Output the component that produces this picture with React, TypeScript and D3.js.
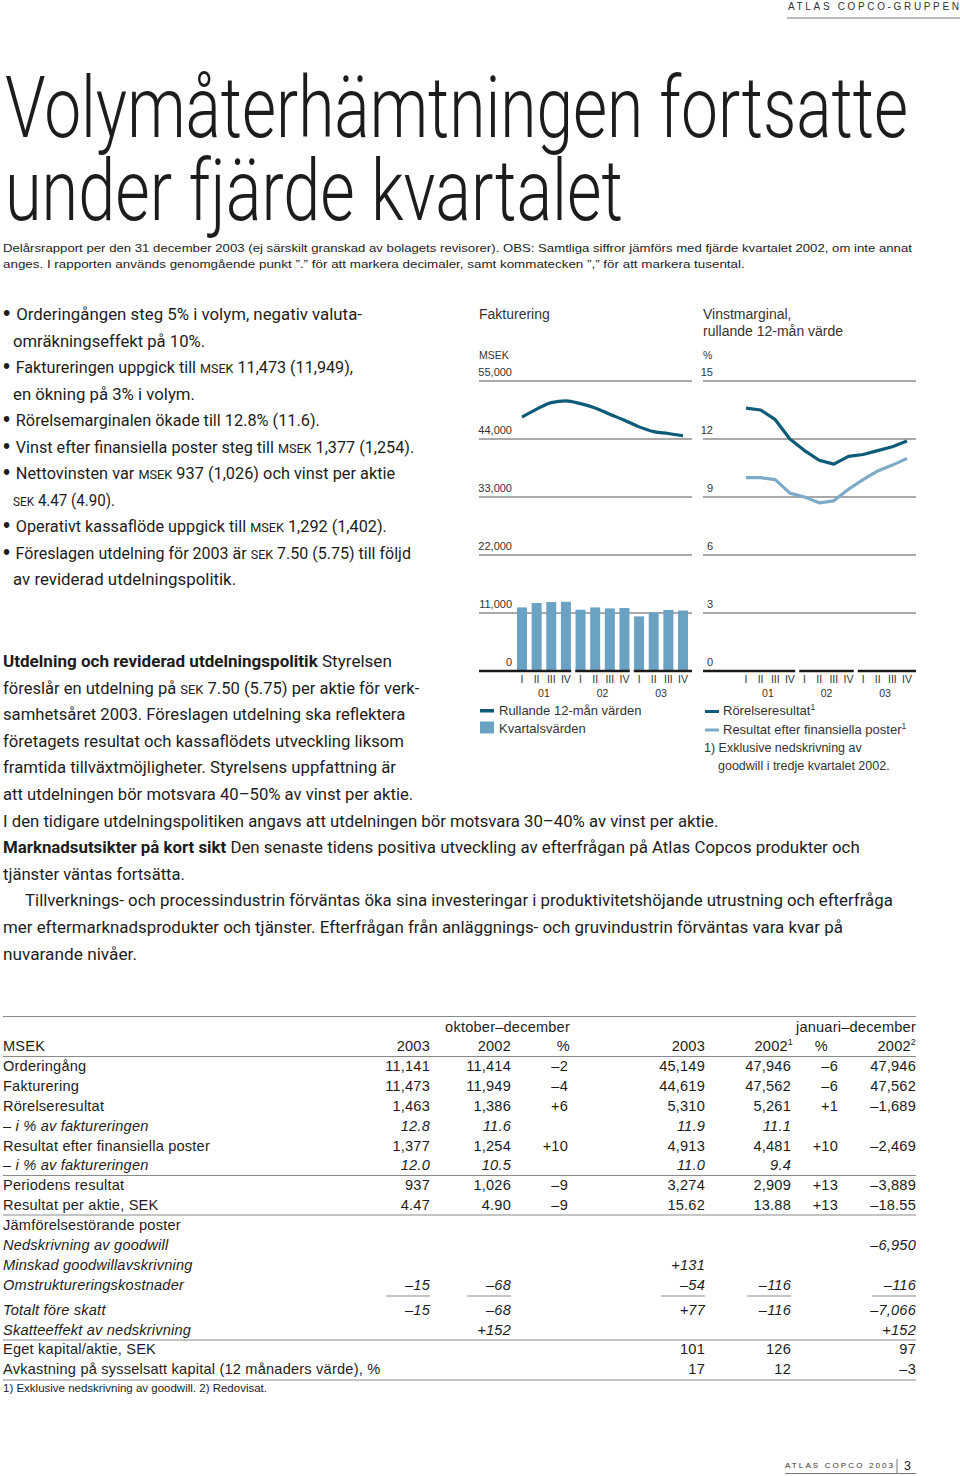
import React, { useLayoutEffect, useRef } from 'react';
import * as d3 from 'd3';

// ---------- chart data ----------
const quarters = ['01-I', '01-II', '01-III', '01-IV', '02-I', '02-II', '02-III', '02-IV', '03-I', '03-II', '03-III', '03-IV'];
const quarterLabels = ['I', 'II', 'III', 'IV', 'I', 'II', 'III', 'IV', 'I', 'II', 'III', 'IV'];
const years = ['01', '02', '03'];
const quarterlyInvoicing = [12060, 12890, 13080, 13130, 11620, 12060, 11870, 11950, 10360, 11110, 11570, 11470];
const rollingInvoicing = [48150, 49660, 50900, 51230, 50700, 49900, 48700, 47560, 46300, 45400, 45050, 44620];
const operatingMargin = [13.6, 13.5, 13.0, 12.0, 11.4, 10.9, 10.7, 11.1, 11.2, 11.4, 11.6, 11.9];
const profitMargin = [10.0, 10.0, 9.9, 9.2, 9.0, 8.7, 8.8, 9.4, 9.9, 10.35, 10.65, 11.0];
const invoicingTicks = [0, 11000, 22000, 33000, 44000, 55000];
const marginTicks = [0, 3, 6, 9, 12, 15];

// ---------- table data ----------
const tableLabels = ['Orderingång', 'Fakturering', 'Rörelseresultat', '– i % av faktureringen', 'Resultat efter finansiella poster', '– i % av faktureringen', 'Periodens resultat', 'Resultat per aktie, SEK', 'Jämförelsestörande poster', 'Nedskrivning av goodwill', 'Minskad goodwillavskrivning', 'Omstruktureringskostnader', 'Totalt före skatt', 'Skatteeffekt av nedskrivning', 'Eget kapital/aktie, SEK', 'Avkastning på sysselsatt kapital (12 månaders värde), %'];
const tableItalic = [false, false, false, true, false, true, false, false, false, true, true, true, true, true, false, false];
const q4y2003 = ['11,141', '11,473', '1,463', '12.8', '1,377', '12.0', '937', '4.47', '', '', '', '–15', '–15', '', '', ''];
const q4y2002 = ['11,414', '11,949', '1,386', '11.6', '1,254', '10.5', '1,026', '4.90', '', '', '', '–68', '–68', '+152', '', ''];
const q4pct = ['–2', '–4', '+6', '', '+10', '', '–9', '–9', '', '', '', '', '', '', '', ''];
const fyy2003 = ['45,149', '44,619', '5,310', '11.9', '4,913', '11.0', '3,274', '15.62', '', '', '+131', '–54', '+77', '', '101', '17'];
const fyy2002 = ['47,946', '47,562', '5,261', '11.1', '4,481', '9.4', '2,909', '13.88', '', '', '', '–116', '–116', '', '126', '12'];
const fypct = ['–6', '–6', '+1', '', '+10', '', '+13', '+13', '', '', '', '', '', '', '', ''];
const fyy2002rep = ['47,946', '47,562', '–1,689', '', '–2,469', '', '–3,889', '–18.55', '', '–6,950', '', '–116', '–7,066', '+152', '97', '–3'];
const headerYears = ['2003', '2002', '%', '2003', '2002', '%', '2002'];
const headerSups = ['', '', '', '', '1', '', '2'];

// ---------- text ----------
const bulletLines = [
  '#• #Orderingången steg 5% i volym, negativ valuta-',
  'omräkningseffekt på 10%.',
  '#• #Faktureringen uppgick till {MSEK} 11,473 (11,949),',
  'en ökning på 3% i volym.',
  '#• #Rörelsemarginalen ökade till 12.8% (11.6).',
  '#• #Vinst efter finansiella poster steg till {MSEK} 1,377 (1,254).',
  '#• #Nettovinsten var {MSEK} 937 (1,026) och vinst per aktie',
  '{SEK} 4.47 (4.90).',
  '#• #Operativt kassaflöde uppgick till {MSEK} 1,292 (1,402).',
  '#• #Föreslagen utdelning för 2003 är {SEK} 7.50 (5.75) till följd',
  'av reviderad utdelningspolitik.',
];
const paraLines = [
  '*Utdelning och reviderad utdelningspolitik* Styrelsen',
  'föreslår en utdelning på {SEK} 7.50 (5.75) per aktie för verk-',
  'samhetsåret 2003. Föreslagen utdelning ska reflektera',
  'företagets resultat och kassaflödets utveckling liksom',
  'framtida tillväxtmöjligheter. Styrelsens uppfattning är',
  'att utdelningen bör motsvara 40–50% av vinst per aktie.',
  'I den tidigare utdelningspolitiken angavs att utdelningen bör motsvara 30–40% av vinst per aktie.',
  '*Marknadsutsikter på kort sikt* Den senaste tidens positiva utveckling av efterfrågan på Atlas Copcos produkter och',
  'tjänster väntas fortsätta.',
  'Tillverknings- och processindustrin förväntas öka sina investeringar i produktivitetshöjande utrustning och efterfråga',
  'mer eftermarknadsprodukter och tjänster. Efterfrågan från anläggnings- och gruvindustrin förväntas vara kvar på',
  'nuvarande nivåer.',
];

// layout of text lines: [startX, endX]
const bulletLayout = [[3, 362], [13, 205], [3, 353], [13, 195], [3, 320], [3, 414], [3, 395], [13, 115], [3, 387], [3, 411], [13, 236]];
const paraLayout = [[3, 392], [3, 419], [3, 405], [3, 404], [3, 396], [3, 413], [3, 718], [3, 860], [3, 185], [25, 893], [3, 843], [3, 137]];

const DARK = '#0d5b78';
const BAR = '#6aa2c4';
const LIGHT = '#7eaac8';
const GRID = '#8c8c8c';
const TXT = '#1c1c1c';
const SANS = "'Liberation Sans', Arial, Helvetica, sans-serif";
const NARROW = "'Liberation Sans Narrow', 'Roboto', sans-serif";

// Text scaled horizontally (via transform) so that it spans exactly width w
function FitText({ x, y, w, children, ...rest }: any) {
  const ref = useRef<SVGTextElement>(null);
  useLayoutEffect(() => {
    const fit = () => {
      const el = ref.current;
      if (!el) return;
      const nat = el.getComputedTextLength();
      const s = nat > 0 ? w / nat : 1;
      el.setAttribute('transform', `translate(${x},${y}) scale(${s},1)`);
    };
    fit();
    const f = (document as any).fonts;
    if (f && f.ready) f.ready.then(fit);
  }, [x, y, w]);
  return (
    <text ref={ref} x={0} y={0} transform={`translate(${x},${y})`} style={{ whiteSpace: 'pre' }} {...rest}>
      {children}
    </text>
  );
}

function Rich({ x, y, x2, s, size }: { x: number; y: number; x2: number; s: string; size: number }) {
  const parts = s.split(/(\*[^*]+\*|\{[^}]+\}|#[^#]+#)/).filter((p) => p.length > 0);
  return (
    <FitText x={x} y={y} w={x2 - x} fontSize={size} fontFamily={NARROW} fill={TXT}>
      {parts.map((p, i) => {
        if (p.startsWith('*')) return <tspan key={i} fontWeight={700}>{p.slice(1, -1)}</tspan>;
        if (p.startsWith('{')) return <tspan key={i} fontSize={size * 0.78}>{p.slice(1, -1)}</tspan>;
        if (p.startsWith('#')) return <tspan key={i} fontSize={size * 1.25} fontFamily={SANS}>{p.slice(1, -1)}</tspan>;
        return <tspan key={i}>{p}</tspan>;
      })}
    </FitText>
  );
}

export default function App() {
  const xL = d3.scalePoint<string>().domain(quarters).range([522, 683]);
  const xR = d3.scalePoint<string>().domain(quarters).range([746, 907]);
  const yL = d3.scaleLinear().domain([0, 55000]).range([671, 381]);
  const yR = d3.scaleLinear().domain([0, 15]).range([671, 381]);
  const fmt = d3.format(',');

  const lineL = d3.line<number>().x((_, i) => xL(quarters[i])!).y((d) => yL(d)).curve(d3.curveMonotoneX);
  const lineR = d3.line<number>().x((_, i) => xR(quarters[i])!).y((d) => yR(d)).curve(d3.curveLinear);

  const segs = (x: d3.ScalePoint<string>, x0: number, x1: number) =>
    years.map((_, g) => {
      const start = g === 0 ? x0 : (x(quarters[g * 4 - 1])! + x(quarters[g * 4])!) / 2 + 2;
      const end = g === years.length - 1 ? x1 : (x(quarters[g * 4 + 3])! + x(quarters[g * 4 + 4])!) / 2 - 2;
      return [start, end];
    });

  const axisLabels = (x: d3.ScalePoint<string>) => (
    <g fontFamily={SANS} fontSize={10.5} fill="#333" textAnchor="middle">
      {quarters.map((q, i) => (
        <text key={q} x={x(q)} y={683}>{quarterLabels[i]}</text>
      ))}
      {years.map((yr, g) => (
        <text key={yr} x={(x(quarters[g * 4 + 1])! + x(quarters[g * 4 + 2])!) / 2} y={697}>{yr}</text>
      ))}
    </g>
  );

  const rowY = [1071, 1091, 1111, 1131, 1151, 1170, 1190, 1210, 1230, 1250, 1270, 1290, 1315, 1335, 1354, 1374];
  const colX = [430, 511, 568, 705, 791, 838, 916];
  const headX = [430, 511, 570, 705, 793, 828, 916];
  const cols = [q4y2003, q4y2002, q4pct, fyy2003, fyy2002, fypct, fyy2002rep];

  return (
    <div>
      <style>{'body{margin:0;} svg{display:block;}'}</style>
      <svg width={960} height={1476} viewBox="0 0 960 1476">
        <rect x={0} y={0} width={960} height={1476} fill="#fff" />

        {/* header */}
        <text x={788} y={10} fontFamily={SANS} fontSize={10} fill="#333" textLength={171} lengthAdjust="spacing">ATLAS COPCO-GRUPPEN</text>
        <line x1={787} x2={960} y1={18} y2={18} stroke="#555" strokeWidth={0.8} />

        {/* title */}
        <g fontFamily="Roboto, 'Liberation Sans', sans-serif" fontWeight={300} fontSize={85} fill={TXT}>
          <FitText x={5} y={137} w={903}>Volymåterhämtningen fortsatte</FitText>
          <FitText x={5} y={220} w={618}>under fjärde kvartalet</FitText>
        </g>

        <g fontFamily={SANS} fontSize={11.8} fill={TXT}>
          <FitText x={3} y={252} w={909}>Delårsrapport per den 31 december 2003 (ej särskilt granskad av bolagets revisorer). OBS: Samtliga siffror jämförs med fjärde kvartalet 2002, om inte annat</FitText>
          <FitText x={3} y={268} w={742}>anges. I rapporten används genomgående punkt ”.” för att markera decimaler, samt kommatecken ”,” för att markera tusental.</FitText>
        </g>

        {/* bullets */}
        {bulletLines.map((s, i) => (
          <Rich key={'b' + i} x={bulletLayout[i][0]} x2={bulletLayout[i][1]} y={320 + i * 26.5} s={s} size={17} />
        ))}
        {paraLines.map((s, i) => (
          <Rich key={'p' + i} x={paraLayout[i][0]} x2={paraLayout[i][1]} y={667 + i * 26.6} s={s} size={17} />
        ))}

        {/* ---------- Left chart: Fakturering ---------- */}
        <g fontFamily={SANS} fill="#333">
          <text x={479} y={319} fontSize={14}>Fakturering</text>
          <text x={479} y={359} fontSize={10.5}>MSEK</text>
        </g>
        {invoicingTicks.filter((t) => t > 0).map((t) => (
          <line key={t} x1={479} x2={692} y1={yL(t)} y2={yL(t)} stroke={GRID} strokeWidth={1.3} />
        ))}
        {quarters.map((q, i) => (
          <rect key={q} x={xL(q)! - 5} width={10} y={yL(quarterlyInvoicing[i])} height={yL(0) - yL(quarterlyInvoicing[i])} fill={BAR} />
        ))}
        {segs(xL, 479, 692).map(([a, b], i) => (
          <line key={i} x1={a} x2={b} y1={yL(0)} y2={yL(0)} stroke="#1a1a1a" strokeWidth={2.6} />
        ))}
        <path d={lineL(rollingInvoicing)!} fill="none" stroke={DARK} strokeWidth={3.2} strokeLinejoin="round" strokeLinecap="butt" />
        <g fontFamily={SANS} fontSize={11} fill="#333" textAnchor="end">
          {invoicingTicks.map((t) => (
            <text key={t} x={512} y={yL(t) - 5}>{fmt(t)}</text>
          ))}
        </g>
        {axisLabels(xL)}
        <rect x={480} y={709} width={14} height={3.5} fill={DARK} />
        <rect x={480} y={721.5} width={14} height={12} fill={BAR} />
        <g fontFamily={SANS} fontSize={13} fill="#333">
          <text x={499} y={715}>Rullande 12-mån värden</text>
          <text x={499} y={733}>Kvartalsvärden</text>
        </g>

        {/* ---------- Right chart: Vinstmarginal ---------- */}
        <g fontFamily={SANS} fill="#333">
          <text x={703} y={319} fontSize={14}>Vinstmarginal,</text>
          <text x={703} y={336} fontSize={14}>rullande 12-mån värde</text>
          <text x={703} y={359} fontSize={10.5}>%</text>
        </g>
        {marginTicks.filter((t) => t > 0).map((t) => (
          <line key={t} x1={703} x2={916} y1={yR(t)} y2={yR(t)} stroke={GRID} strokeWidth={1.3} />
        ))}
        {segs(xR, 703, 916).map(([a, b], i) => (
          <line key={i} x1={a} x2={b} y1={yR(0)} y2={yR(0)} stroke="#1a1a1a" strokeWidth={2.6} />
        ))}
        <path d={lineR(profitMargin)!} fill="none" stroke={LIGHT} strokeWidth={3.2} strokeLinejoin="round" />
        <path d={lineR(operatingMargin)!} fill="none" stroke={DARK} strokeWidth={3.2} strokeLinejoin="round" />
        <g fontFamily={SANS} fontSize={11} fill="#333" textAnchor="end">
          {marginTicks.map((t) => (
            <text key={t} x={713} y={yR(t) - 5}>{t}</text>
          ))}
        </g>
        {axisLabels(xR)}
        <rect x={705} y={710} width={14} height={3} fill={DARK} />
        <rect x={705} y={728.5} width={14} height={3} fill={LIGHT} />
        <g fontFamily={SANS} fontSize={13} fill="#333">
          <text x={723} y={715}>Rörelseresultat<tspan fontSize={8.5} dy={-5}>1</tspan></text>
          <text x={723} y={734}>Resultat efter finansiella poster<tspan fontSize={8.5} dy={-5}>1</tspan></text>
          <text x={704} y={752} fontSize={12.5}>1) Exklusive nedskrivning av</text>
          <text x={718} y={770} fontSize={12.5}>goodwill i tredje kvartalet 2002.</text>
        </g>

        {/* ---------- Table ---------- */}
        <g stroke="#8a8a8a" strokeWidth={1.2}>
          {[1016.5, 1056.5, 1175.5, 1215, 1340, 1380].map((y) => (
            <line key={y} x1={3} x2={916} y1={y} y2={y} />
          ))}
          {cols.map((c, ci) =>
            c[11] ? <line key={'s' + ci} x1={colX[ci] - 44} x2={colX[ci]} y1={1296} y2={1296} /> : null
          )}
        </g>
        <g fontFamily={SANS} fontSize={14.6} fill={TXT} letterSpacing={0.2}>
          <text x={570} y={1032} textAnchor="end">oktober–december</text>
          <text x={916} y={1032} textAnchor="end">januari–december</text>
          <text x={3} y={1051}>MSEK</text>
          {headerYears.map((h, i) => (
            <text key={'h' + i} x={headX[i]} y={1051} textAnchor="end">
              {h}
              {headerSups[i] ? <tspan fontSize={9} dy={-6}>{headerSups[i]}</tspan> : null}
            </text>
          ))}
          {tableLabels.map((l, r) => (
            <g key={'r' + r} fontStyle={tableItalic[r] ? 'italic' : 'normal'}>
              <text x={3} y={rowY[r]}>{l}</text>
              {cols.map((c, ci) =>
                c[r] ? (
                  <text key={ci} x={colX[ci]} y={rowY[r]} textAnchor="end">{c[r]}</text>
                ) : null
              )}
            </g>
          ))}
          <text x={3} y={1392} fontSize={11.5} letterSpacing={0}>1) Exklusive nedskrivning av goodwill. 2) Redovisat.</text>
        </g>

        {/* footer */}
        <text x={785} y={1468} fontFamily={SANS} fontSize={8} fill="#333" textLength={108} lengthAdjust="spacing">ATLAS COPCO 2003</text>
        <line x1={897} x2={897} y1={1459} y2={1473} stroke="#555" strokeWidth={0.8} />
        <text x={904} y={1470} fontFamily={SANS} fontSize={12.5} fill="#222">3</text>
        <line x1={785} x2={916} y1={1473.5} y2={1473.5} stroke="#555" strokeWidth={0.8} />
      </svg>
    </div>
  );
}
